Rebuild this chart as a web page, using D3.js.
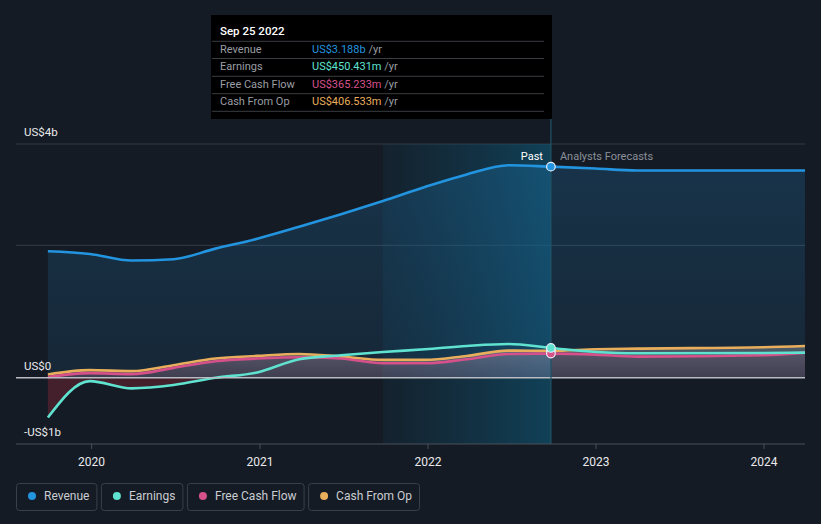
<!DOCTYPE html>
<html><head><meta charset="utf-8">
<script src="https://cdn.jsdelivr.net/npm/d3@7"></script>
<style>
html,body{margin:0;padding:0;background:#151b24;}
svg{display:block;font-family:Roboto,"Noto Sans",sans-serif;}
</style></head>
<body><svg id="c" width="821" height="524"></svg>
<script>
// ---- data (billions USD) ----
const pastDates = ["2019-09-28","2019-12-28","2020-03-28","2020-06-27","2020-09-26","2020-12-26","2021-03-27","2021-06-26","2021-09-25","2021-12-25","2022-03-26","2022-06-25","2022-09-25"];
const revenuePast = [1.91,1.87,1.77,1.79,1.95,2.10,2.28,2.47,2.67,2.88,3.07,3.21,3.188];
const earningsPast = [-0.60,-0.05,-0.16,-0.11,0.00,0.08,0.28,0.34,0.39,0.43,0.48,0.51,0.450];
const fcfPast = [0.01,0.07,0.055,0.15,0.25,0.29,0.31,0.29,0.22,0.22,0.28,0.36,0.365];
const cfoPast = [0.05,0.115,0.10,0.19,0.29,0.33,0.36,0.32,0.27,0.27,0.33,0.41,0.4065];

const fcDates = ["2022-09-25","2022-12-31","2023-03-31","2023-12-31","2024-03-31"];
const revenueFc = [3.188,3.16,3.13,3.13,3.13];
const earningsFc = [0.450,0.39,0.37,0.375,0.38];
const fcfFc = [0.365,0.35,0.32,0.34,0.38];
const cfoFc = [0.4065,0.43,0.44,0.46,0.48];

const yTickLabels = [{v:3.53,t:"US$4b"},{v:0,t:"US$0"},{v:-1,t:"-US$1b"}];
const gridValues = [3.53,2];
const xTickYears = [2020,2021,2022,2023,2024];

const series = [
  {name:"Revenue", color:"#2394df", past:revenuePast, fc:revenueFc, tip:"US$3.188b"},
  {name:"Earnings", color:"#5fe3d0", past:earningsPast, fc:earningsFc, tip:"US$450.431m"},
  {name:"Free Cash Flow", color:"#d6518a", past:fcfPast, fc:fcfFc, tip:"US$365.233m"},
  {name:"Cash From Op", color:"#e9ae5c", past:cfoPast, fc:cfoFc, tip:"US$406.533m"}
];

const parse = d3.timeParse("%Y-%m-%d");
const svg = d3.select("#c");
const L = 16, R = 805, T = 144, B = 444;

const x = d3.scaleTime().domain([new Date(2020,0,1), new Date(2024,0,1)]).range([91.6, 764]);
const y = d3.scaleLinear().domain([-1, 3.53]).range([B, T]);

const defs = svg.append("defs");
defs.append("clipPath").attr("id","clip").append("rect").attr("x",L).attr("y",T).attr("width",R-L).attr("height",B-T);

const hg = defs.append("linearGradient").attr("id","hl").attr("x1","0").attr("x2","1").attr("y1","0").attr("y2","0");
hg.append("stop").attr("offset","0").attr("stop-color","#0e4a66").attr("stop-opacity",0.15);
hg.append("stop").attr("offset","1").attr("stop-color","#0e5a7a").attr("stop-opacity",0.6);

const rg = defs.append("linearGradient").attr("id","revA").attr("x1","0").attr("x2","0").attr("y1","0").attr("y2","1");
rg.append("stop").attr("offset","0").attr("stop-color","#2394df").attr("stop-opacity",0.2);
rg.append("stop").attr("offset","1").attr("stop-color","#2394df").attr("stop-opacity",0.1);

const gg = defs.append("linearGradient").attr("id","grayA").attr("x1","0").attr("x2","0").attr("y1","0").attr("y2","1");
gg.append("stop").attr("offset","0").attr("stop-color","#ffffff").attr("stop-opacity",0.24);
gg.append("stop").attr("offset","1").attr("stop-color","#ffffff").attr("stop-opacity",0.1);

// grid
svg.selectAll(".grid").data(gridValues).enter().append("line")
  .attr("x1",L).attr("x2",R).attr("y1",d=>y(d)).attr("y2",d=>y(d))
  .attr("stroke","#343a44").attr("stroke-width",1);

const pastEnd = parse(pastDates[pastDates.length-1]);
const hlStart = parse("2021-09-25");

// highlight band
svg.append("rect").attr("x",x(hlStart)).attr("y",T).attr("width",x(pastEnd)-x(hlStart)).attr("height",B-T)
  .attr("fill","url(#hl)");

const plot = svg.append("g").attr("clip-path","url(#clip)");

function pts(s){
  const a = pastDates.map((d,i)=>({d:parse(d),v:s.past[i]}));
  const b = fcDates.slice(1).map((d,i)=>({d:parse(d),v:s.fc[i+1]}));
  return a.concat(b);
}
const curve = d3.curveMonotoneX;

// revenue area
plot.append("path").datum(pts(series[0]))
  .attr("d",d3.area().curve(curve).x(d=>x(d.d)).y0(y(0)).y1(d=>y(d.v)))
  .attr("fill","url(#revA)");

// gray area under cash from op
plot.append("path").datum(pts(series[3]))
  .attr("d",d3.area().curve(curve).x(d=>x(d.d)).y0(y(0)).y1(d=>y(Math.max(0,d.v))))
  .attr("fill","url(#grayA)");
// pinkish tint under FCF
plot.append("path").datum(pts(series[2]))
  .attr("d",d3.area().curve(curve).x(d=>x(d.d)).y0(y(0)).y1(d=>y(Math.max(0,d.v))))
  .attr("fill","#d6518a").attr("opacity",0.1);
// negative earnings area (red)
plot.append("path").datum(pts(series[1]))
  .attr("d",d3.area().curve(curve).x(d=>x(d.d)).y0(y(0)).y1(d=>y(Math.min(0,d.v))))
  .attr("fill","#b03040").attr("opacity",0.3);

// zero line
svg.append("line").attr("x1",L).attr("x2",R).attr("y1",y(0)).attr("y2",y(0))
  .attr("stroke","#b9bcc2").attr("stroke-width",1.5);

// lines (draw in order: cfo, fcf, earnings, revenue)
[3,2,1,0].forEach(i=>{
  const s = series[i];
  plot.append("path").datum(pts(s))
    .attr("d",d3.line().curve(curve).x(d=>x(d.d)).y(d=>y(d.v)))
    .attr("fill","none").attr("stroke",s.color).attr("stroke-width",2.6);
});

// vertical marker line
svg.append("line").attr("x1",x(pastEnd)).attr("x2",x(pastEnd)).attr("y1",119).attr("y2",B)
  .attr("stroke","#1f5468").attr("stroke-width",1.2);

// markers
[3,2,1,0].forEach(i=>{
  const s = series[i];
  svg.append("circle").attr("cx",x(pastEnd)).attr("cy",y(s.past[s.past.length-1])).attr("r",4.3)
    .attr("fill",s.color).attr("stroke","#e6eef5").attr("stroke-width",1.2);
});

// bottom axis
svg.append("line").attr("x1",L).attr("x2",R).attr("y1",B).attr("y2",B).attr("stroke","#4a5058").attr("stroke-width",1);
const xa = svg.append("g");
xTickYears.forEach(yr=>{
  const px = x(new Date(yr,0,1));
  xa.append("line").attr("x1",px).attr("x2",px).attr("y1",B).attr("y2",B+5).attr("stroke","#4a5058");
  xa.append("text").attr("x",px).attr("y",466).attr("text-anchor","middle")
    .attr("fill","#e8eaed").attr("font-size",12).text(yr);
});

// y labels
svg.selectAll(".yl").data(yTickLabels).enter().append("text")
  .attr("x",24).attr("y",d=>y(d.v)-8).attr("fill","#e8eaed").attr("font-size",11.5).text(d=>d.t);

// Past / Analysts Forecasts
svg.append("text").attr("x",x(pastEnd)-8).attr("y",160).attr("text-anchor","end")
  .attr("fill","#ffffff").attr("font-size",11).text("Past");
svg.append("text").attr("x",x(pastEnd)+9).attr("y",160)
  .attr("fill","#8a9099").attr("font-size",11).text("Analysts Forecasts");

// tooltip
const tt = svg.append("g");
tt.append("rect").attr("x",211).attr("y",15).attr("width",341).attr("height",104).attr("fill","#000000");
tt.append("text").attr("x",220).attr("y",35).attr("fill","#ffffff").attr("font-size",11.5).attr("font-weight",500).text("Sep 25 2022");
const rowLines = [41.3,58.5,76.3,93.7,111.3];
rowLines.forEach(v=>tt.append("line").attr("x1",212).attr("x2",544).attr("y1",v).attr("y2",v).attr("stroke","#3a3d42").attr("stroke-width",1));
series.forEach((s,i)=>{
  const by = 53 + i*17.4;
  tt.append("text").attr("x",220).attr("y",by).attr("fill","#9a9da3").attr("font-size",11).text(s.name);
  const t = tt.append("text").attr("x",312).attr("y",by).attr("font-size",11);
  t.append("tspan").attr("fill",s.color).text(s.tip);
  t.append("tspan").attr("fill","#9a9da3").text(" /yr");
});

// legend
const lg = svg.append("g");
let lx = 16.5;
series.forEach(s=>{
  const g = lg.append("g");
  const txt = g.append("text").attr("x",lx+27.5).attr("y",500).attr("fill","#c9ccd1").attr("font-size",12).text(s.name);
  const w = txt.node().getComputedTextLength();
  const bw = w + 35;
  g.insert("rect","text").attr("x",lx).attr("y",483.5).attr("width",bw).attr("height",27).attr("rx",3)
    .attr("fill","none").attr("stroke","#3a404a").attr("stroke-width",1);
  g.append("circle").attr("cx",lx+15.5).attr("cy",496).attr("r",4).attr("fill",s.color);
  lx += bw + 4.5;
});
</script></body></html>
